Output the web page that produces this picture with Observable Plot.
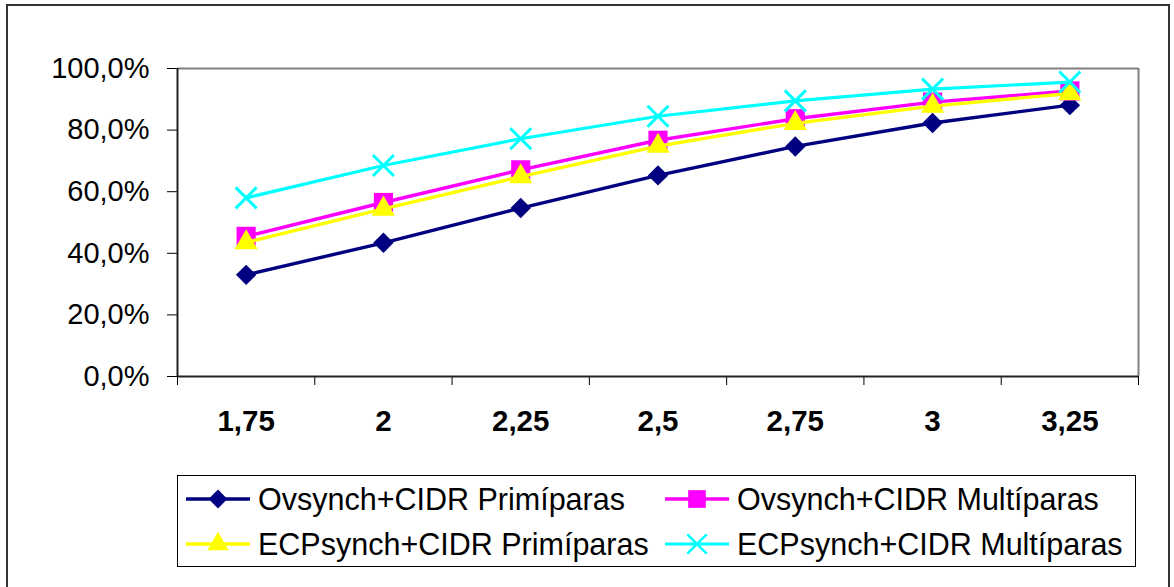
<!DOCTYPE html>
<html>
<head>
<meta charset="utf-8">
<script src="https://cdn.jsdelivr.net/npm/d3@7"></script>
<script src="https://cdn.jsdelivr.net/npm/@observablehq/plot@0.6"></script>
<style>
  html, body { margin: 0; padding: 0; background: #fff; }
  #wrap { position: relative; width: 1174px; height: 587px; overflow: hidden; font-family: "Liberation Sans", Arial, sans-serif; }
  #outer { position: absolute; left: 6px; top: 4px; width: 1164px; height: 600px; border: 2px solid #333; box-sizing: border-box; }
  #chart { position: absolute; left: 0; top: 0; }
  #legend { position: absolute; left: 177px; top: 475px; width: 959px; height: 92px; border: 1px solid #000; box-sizing: border-box; background: #fff; }
  .item { position: absolute; height: 40px; display: flex; align-items: center; font-size: 30.5px; color: #000; white-space: nowrap; }
  .item svg { margin-right: 8px; }
</style>
</head>
<body>
<div id="wrap">
  <div id="outer"></div>
  <div id="chart"></div>
  <div id="legend"></div>
</div>
<script>
// ---- data ----
const categories = [1.75, 2, 2.25, 2.5, 2.75, 3, 3.25];
const categoryLabels = ["1,75", "2", "2,25", "2,5", "2,75", "3", "3,25"];
const yTicks = [0, 20, 40, 60, 80, 100];
const seriesNames = ["Ovsynch+CIDR Primíparas", "Ovsynch+CIDR Multíparas", "ECPsynch+CIDR Primíparas", "ECPsynch+CIDR Multíparas"];
const ovsynchPrimiparas = [33.0, 43.4, 54.7, 65.3, 74.7, 82.3, 88.1];
const ovsynchMultiparas = [45.5, 56.5, 67.1, 76.7, 83.7, 89.1, 92.7];
const ecpsynchPrimiparas = [43.5, 54.4, 64.9, 74.8, 82.2, 87.8, 91.9];
const ecpsynchMultiparas = [58.0, 68.5, 77.2, 84.5, 89.5, 93.3, 95.6];

const seriesValues = [ovsynchPrimiparas, ovsynchMultiparas, ecpsynchPrimiparas, ecpsynchMultiparas];
const colors = ["#000080", "#FF00FF", "#FFFF00", "#00FFFF"];
const symbols = ["diamond2", "square", "triangle", "times"];
const radii = [9.2, 10.8, 8.6, 9.6];
const lineWidths = [3.4, 3.4, 3.4, 3.2];

const step = 0.25;
const xDomain = [categories[0] - step / 2, categories[categories.length - 1] + step / 2];
const boundaries = d3.range(categories.length + 1).map(i => xDomain[0] + i * step);

const rows = seriesValues.map((vals, s) => categories.map((c, i) => ({x: c, y: vals[i], s})));

const marks = [
  Plot.ruleY([100], {stroke: "#808080", strokeWidth: 2}),
  Plot.ruleX([xDomain[1]], {stroke: "#808080", strokeWidth: 2}),
  Plot.axisY({ticks: yTicks, tickSize: 10, tickPadding: 18, fontSize: 29, label: null,
    tickFormat: d => d.toFixed(1).replace(".", ",") + "%", stroke: "#000", color: "#000"}),
  Plot.axisX({ticks: boundaries, tickSize: 9, tickFormat: () => "", label: null, stroke: "#000"}),
  Plot.text(categories, {x: d => d, frameAnchor: "bottom", dy: 45, text: (d, i) => categoryLabels[i],
    fontSize: 29.5, fontWeight: "bold", lineAnchor: "middle", fill: "#000"}),
  Plot.ruleX([xDomain[0]], {stroke: "#222", strokeWidth: 2}),
  Plot.ruleY([0], {stroke: "#222", strokeWidth: 2})
];
rows.forEach((r, s) => {
  marks.push(Plot.line(r, {x: "x", y: "y", stroke: colors[s], strokeWidth: lineWidths[s]}));
  if (symbols[s] === "times") {
    marks.push(Plot.dot(r, {x: "x", y: "y", symbol: "times", r: radii[s], stroke: colors[s], strokeWidth: 3, fill: "none"}));
  } else {
    marks.push(Plot.dot(r, {x: "x", y: "y", symbol: symbols[s], r: radii[s], fill: colors[s], stroke: "none"}));
  }
});

const chart = Plot.plot({
  width: 1174, height: 460,
  marginLeft: 177, marginRight: 36, marginTop: 68, marginBottom: 84,
  style: {fontFamily: "'Liberation Sans', Arial, sans-serif", background: "transparent", color: "#000", overflow: "visible"},
  x: {domain: xDomain, axis: null},
  y: {domain: [0, 100], axis: null},
  marks
});
document.getElementById("chart").appendChild(chart);

// ---- legend ----
const legend = d3.select("#legend");
const pos = [[8, 3], [487, 3], [8, 48], [487, 48]];
const symMap = {diamond2: d3.symbolDiamond2, square: d3.symbolSquare, triangle: d3.symbolTriangle, times: d3.symbolTimes};
seriesNames.forEach((name, s) => {
  const item = legend.append("div").attr("class", "item")
    .style("left", pos[s][0] + "px").style("top", pos[s][1] + "px");
  const svg = item.append("svg").attr("width", 64).attr("height", 40);
  svg.append("line").attr("x1", 0).attr("x2", 64).attr("y1", 20).attr("y2", 20)
    .attr("stroke", colors[s]).attr("stroke-width", lineWidths[s]);
  const size = Math.PI * radii[s] * radii[s] * 0.85;
  const p = svg.append("path").attr("transform", "translate(32,20)")
    .attr("d", d3.symbol(symMap[symbols[s]], size)());
  if (symbols[s] === "times") p.attr("fill", "none").attr("stroke", colors[s]).attr("stroke-width", 2.6);
  else p.attr("fill", colors[s]);
  item.append("span").text(name);
});
</script>
</body>
</html>
